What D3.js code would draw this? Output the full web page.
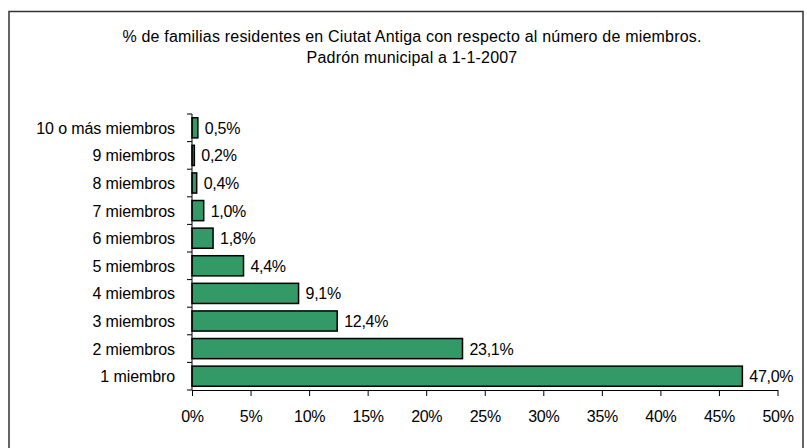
<!DOCTYPE html>
<html><head><meta charset="utf-8">
<script src="https://cdn.jsdelivr.net/npm/d3@7"></script>
<style>
body{margin:0;background:#fff;}
text{font-family:"Liberation Sans",Arial,sans-serif;fill:#000;}
</style></head>
<body>
<svg id="c" width="807" height="448"></svg>
<script>
const categories = ["10 o más miembros","9 miembros","8 miembros","7 miembros","6 miembros","5 miembros","4 miembros","3 miembros","2 miembros","1 miembro"];
const values = [0.5,0.2,0.4,1.0,1.8,4.4,9.1,12.4,23.1,47.0];
const xTicks = [0,5,10,15,20,25,30,35,40,45,50];
const titleLines = ["% de familias residentes en Ciutat Antiga con respecto al número de miembros.","Padrón municipal a 1-1-2007"];

const svg = d3.select("#c");
svg.append("rect").attr("x",9).attr("y",11.5).attr("width",794).attr("height",450)
  .attr("fill","#fff").attr("stroke","#333").attr("stroke-width",1.5);

const x = d3.scaleLinear().domain([0,50]).range([192,777.5]);
const y = d3.scaleBand().domain(categories).range([114,390]).paddingInner(0.27).paddingOuter(0.135);

svg.selectAll("text.title").data(titleLines).enter().append("text")
  .attr("x",412).attr("y",(d,i)=>42+i*21).attr("text-anchor","middle")
  .style("font-size","16px").style("letter-spacing","0.2px").text(d=>d);

svg.selectAll("rect.bar").data(values).enter().append("rect")
  .attr("x",x(0)).attr("y",(d,i)=>y(categories[i]))
  .attr("width",d=>x(d)-x(0)).attr("height",y.bandwidth())
  .attr("fill","#339966").attr("stroke","#000").attr("stroke-width",1.5);

svg.selectAll("text.val").data(values).enter().append("text")
  .attr("x",d=>x(d)+7).attr("y",(d,i)=>y(categories[i])+y.bandwidth()/2+6)
  .style("font-size","16px").style("letter-spacing","-0.3px")
  .text(d=>d.toFixed(1).replace(".",",")+"%");

// y axis
const g = svg.append("g");
g.append("line").attr("x1",x(0)).attr("x2",x(0)).attr("y1",114).attr("y2",390).attr("stroke","#000");
const bounds = d3.range(categories.length+1).map(i=>114+ i*(276/categories.length));
g.selectAll("line.yt").data(bounds).enter().append("line")
  .attr("x1",x(0)-5).attr("x2",x(0)).attr("y1",d=>d).attr("y2",d=>d).attr("stroke","#000");
g.selectAll("text.cat").data(categories).enter().append("text")
  .attr("x",175).attr("y",d=>y(d)+y.bandwidth()/2+6).attr("text-anchor","end")
  .style("font-size","16px").style("letter-spacing","-0.1px").text(d=>d);

// x axis
const xa = svg.append("g").attr("transform","translate(0,390)")
  .call(d3.axisBottom(x).tickValues(xTicks).tickSize(6).tickSizeOuter(0).tickFormat(d=>d+"%"));
xa.select(".domain").attr("stroke","#000");
xa.selectAll(".tick line").attr("stroke","#000");
xa.selectAll(".tick text").attr("dy",null).attr("y",32).style("font-size","16px")
  .style("letter-spacing","-0.3px").style("font-family","'Liberation Sans',Arial,sans-serif").attr("fill","#000");
</script>
</body></html>
